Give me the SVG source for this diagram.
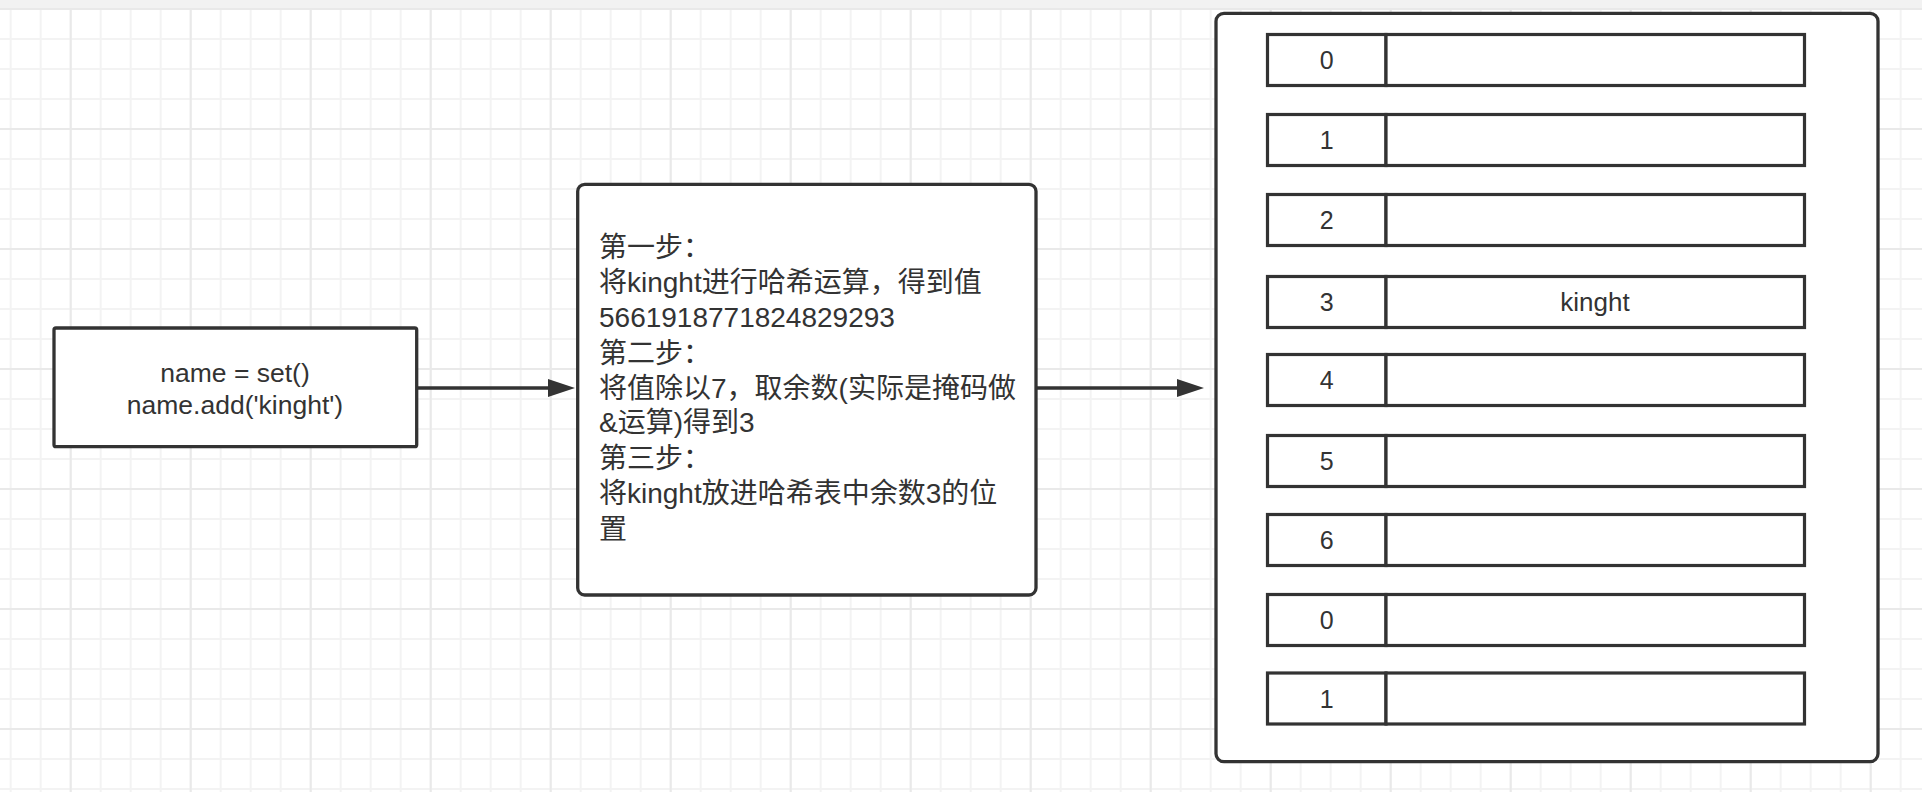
<svg xmlns="http://www.w3.org/2000/svg" width="1922" height="792" viewBox="0 0 1922 792">
  <style>
    .box { fill: #ffffff; stroke: #333333; stroke-width: 3.3; }
    .cell { fill: #ffffff; stroke: #333333; stroke-width: 3.2; }
    .edge { fill: none; stroke: #333333; stroke-width: 3.5; }
    .t { font-family: "Liberation Sans", "Noto Sans CJK SC", sans-serif; fill: #333333; }
    .mid { text-anchor: middle; }
    .s25 { font-size: 25px; }
    .s26 { font-size: 26px; }
    .s28 { font-size: 28px; }
  </style>
  <defs>
    <pattern id="gridMinor" width="30" height="30" patternUnits="userSpaceOnUse" x="9.7" y="8">
      <path d="M0 1H30M1 0V30" fill="none" stroke="#f3f3f3" stroke-width="2"/>
    </pattern>
    <pattern id="gridMajor" width="120" height="120" patternUnits="userSpaceOnUse" x="69.7" y="8">
      <path d="M0 1H120M1 0V120" fill="none" stroke="#e9e9e9" stroke-width="2"/>
    </pattern>
    <marker id="arrow" markerUnits="userSpaceOnUse" markerWidth="28" markerHeight="19" refX="7" refY="9" orient="auto" viewBox="0 0 28 19">
      <path d="M0 0L27 9L0 18Z" fill="#333333"/>
    </marker>
  </defs>

  <g id="background">
    <rect x="0" y="0" width="1922" height="792" fill="#ffffff"/>
    <rect x="0" y="0" width="1922" height="792" fill="url(#gridMinor)"/>
    <rect x="0" y="0" width="1922" height="792" fill="url(#gridMajor)"/>
    <rect x="0" y="0" width="1922" height="8" fill="#f2f2f2"/>
  </g>

  <g id="connectors">
    <path class="edge" d="M417 388H555" marker-end="url(#arrow)"/>
    <path class="edge" d="M1036 388H1184" marker-end="url(#arrow)"/>
  </g>

  <g id="code">
    <rect class="box" x="54" y="328" width="362.7" height="118.7" rx="2"/>
    <text class="t mid" font-size="26.5" x="235" y="382">name = set()</text>
    <text class="t mid" font-size="26.5" x="235" y="414">name.add('kinght')</text>
  </g>

  <g id="steps">
    <rect class="box" x="577.7" y="184.3" width="458.3" height="410.7" rx="7"/>
    <text class="t s28" x="599" y="257">第一步：</text>
    <text class="t s28" x="599" y="292">将kinght进行哈希运算，得到值</text>
    <text class="t s28" x="599" y="327.3">5661918771824829293</text>
    <text class="t s28" x="599" y="362.5">第二步：</text>
    <text class="t s28" x="599" y="397.7">将值除以7，取余数(实际是掩码做</text>
    <text class="t s28" x="599" y="432">&amp;运算)得到3</text>
    <text class="t s28" x="599" y="468">第三步：</text>
    <text class="t s28" x="599" y="503.3">将kinght放进哈希表中余数3的位</text>
    <text class="t s28" x="599" y="538.5">置</text>
  </g>

  <g id="hash-table">
    <rect class="box" x="1216" y="13.3" width="662" height="748.4" rx="8"/>
  </g>

  <g id="slot-0">
    <rect class="cell" x="1267.5" y="34.5" width="118.5" height="51"/>
    <rect class="cell" x="1386" y="34.5" width="418.5" height="51"/>
    <text class="t s25 mid" x="1326.7" y="69">0</text>
  </g>
  <g id="slot-1">
    <rect class="cell" x="1267.5" y="114.5" width="118.5" height="51"/>
    <rect class="cell" x="1386" y="114.5" width="418.5" height="51"/>
    <text class="t s25 mid" x="1326.7" y="149">1</text>
  </g>
  <g id="slot-2">
    <rect class="cell" x="1267.5" y="194.5" width="118.5" height="51"/>
    <rect class="cell" x="1386" y="194.5" width="418.5" height="51"/>
    <text class="t s25 mid" x="1326.7" y="229">2</text>
  </g>
  <g id="slot-3">
    <rect class="cell" x="1267.5" y="276.5" width="118.5" height="51"/>
    <rect class="cell" x="1386" y="276.5" width="418.5" height="51"/>
    <text class="t s25 mid" x="1326.7" y="311">3</text>
    <text class="t s26 mid" x="1595" y="311">kinght</text>
  </g>
  <g id="slot-4">
    <rect class="cell" x="1267.5" y="354.5" width="118.5" height="51"/>
    <rect class="cell" x="1386" y="354.5" width="418.5" height="51"/>
    <text class="t s25 mid" x="1326.7" y="389">4</text>
  </g>
  <g id="slot-5">
    <rect class="cell" x="1267.5" y="435.5" width="118.5" height="51"/>
    <rect class="cell" x="1386" y="435.5" width="418.5" height="51"/>
    <text class="t s25 mid" x="1326.7" y="470">5</text>
  </g>
  <g id="slot-6">
    <rect class="cell" x="1267.5" y="514.5" width="118.5" height="51"/>
    <rect class="cell" x="1386" y="514.5" width="418.5" height="51"/>
    <text class="t s25 mid" x="1326.7" y="549">6</text>
  </g>
  <g id="slot-7">
    <rect class="cell" x="1267.5" y="594.5" width="118.5" height="51"/>
    <rect class="cell" x="1386" y="594.5" width="418.5" height="51"/>
    <text class="t s25 mid" x="1326.7" y="629">0</text>
  </g>
  <g id="slot-8">
    <rect class="cell" x="1267.5" y="673" width="118.5" height="51"/>
    <rect class="cell" x="1386" y="673" width="418.5" height="51"/>
    <text class="t s25 mid" x="1326.7" y="707.5">1</text>
  </g>
</svg>
